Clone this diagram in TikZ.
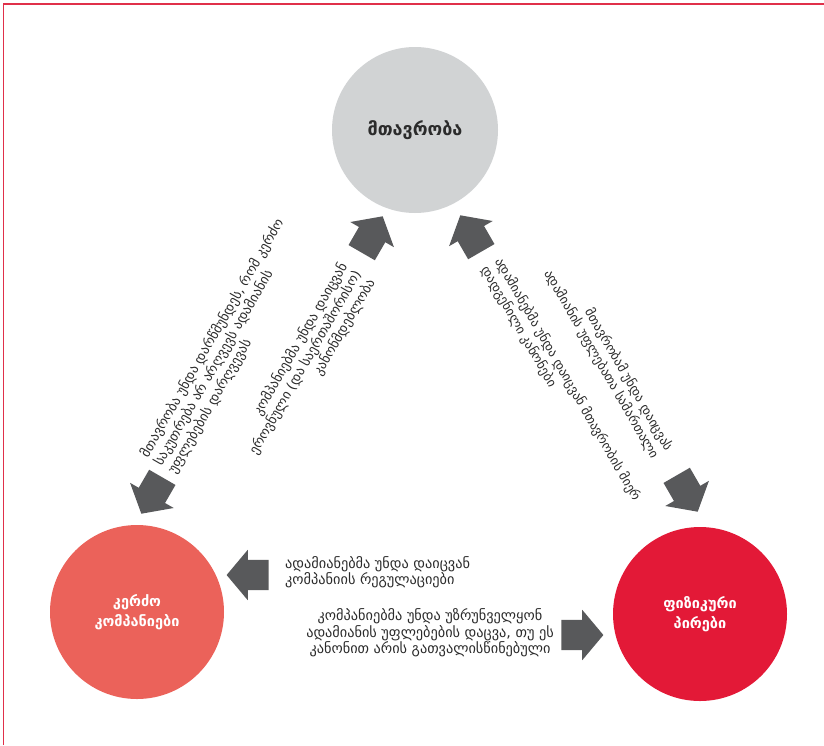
\documentclass[tikz,border=0pt]{standalone}
\usepackage{fontspec}
\setmainfont{DejaVu Sans}
\usetikzlibrary{shapes.arrows}
\definecolor{framered}{HTML}{E0304A}
\definecolor{govgrey}{HTML}{D1D3D4}
\definecolor{compsalmon}{HTML}{EB625A}
\definecolor{peoplered}{HTML}{E31937}
\definecolor{arrowgrey}{HTML}{58595B}
\definecolor{txtgrey}{HTML}{2B2B2B}
\begin{document}
\begin{tikzpicture}[x=1pt,y=-1pt,
  bigarrow/.style={shape=single arrow, fill=arrowgrey, draw=none, minimum height=42pt,
    inner xsep=0pt, inner ysep=15pt, single arrow head extend=10pt, single arrow tip angle=100},
  actor/.style={circle, inner sep=0pt, align=center, font=\fontsize{14.5}{20}\selectfont\bfseries},
  note/.style={inner sep=0pt, text=txtgrey, font=\fontsize{13}{16}\selectfont},
  bignote/.style={inner sep=0pt, text=txtgrey, font=\fontsize{14.3}{16.5}\selectfont}]
\useasboundingbox (0,0) rectangle (824,745);
\draw[framered, line width=1.5pt] (3.5,745) -- (3.5,4) -- (824,4);

\node[actor, fill=govgrey, minimum size=166pt, text=txtgrey, font=\fontsize{18}{20}\selectfont\bfseries] (gov) at (415,130) {მთავრობა};
\node[actor, fill=compsalmon, minimum size=174pt, text=white] (comp) at (137,612) {კერძო\\კომპანიები};
\node[actor, fill=peoplered, minimum size=174pt, text=white] (ppl) at (700,614) {ფიზიკური\\პირები};

\node[bigarrow, rotate=180] (a1) at (254,575) {};
\node[bigarrow, rotate=0] (a2) at (576,635) {};
\node[bigarrow, rotate=60] (a3) at (369,240) {};
\node[bigarrow, rotate=120] (a4) at (474,239) {};
\node[bigarrow, rotate=240] (a5) at (155,490) {};
\node[bigarrow, rotate=300] (a6) at (684,488) {};

\node[note, rotate=60, anchor=west, align=left, font=\fontsize{13.5}{16}\selectfont] (t5) at (158,464.5)
  {მთავრობა უნდა დარწმუნდეს, რომ კერძო\\საკუთრება არ არღვევს ადამიანის\\უფლებების დარღვევას};
\node[note, rotate=60, anchor=east, align=right, font=\fontsize{13.5}{16}\selectfont] (t3) at (358,272)
  {კომპანიებმა უნდა დაიცვან\\ეროვნული (და საერთაშორისო)\\კანონმდებლობა};
\node[note, rotate=-60, anchor=west, align=left] (t4) at (491,263)
  {ადამიანებმა უნდა დაიცვან მთავრობის მიერ\\დადგენილი კანონები};
\node[note, rotate=-60, anchor=east, align=right] (t6) at (662,454)
  {მთავრობამ უნდა დაიცვას\\ადამიანის უფლებათა სამართალი};
\node[bignote, anchor=west, align=left] (t1) at (285,572)
  {ადამიანებმა უნდა დაიცვან\\კომპანიის რეგულაციები};
\node[bignote, align=center] (t2) at (430,633)
  {კომპანიებმა უნდა უზრუნველყონ\\ადამიანის უფლებების დაცვა, თუ ეს\\კანონით არის გათვალისწინებული};
\end{tikzpicture}
\end{document}
